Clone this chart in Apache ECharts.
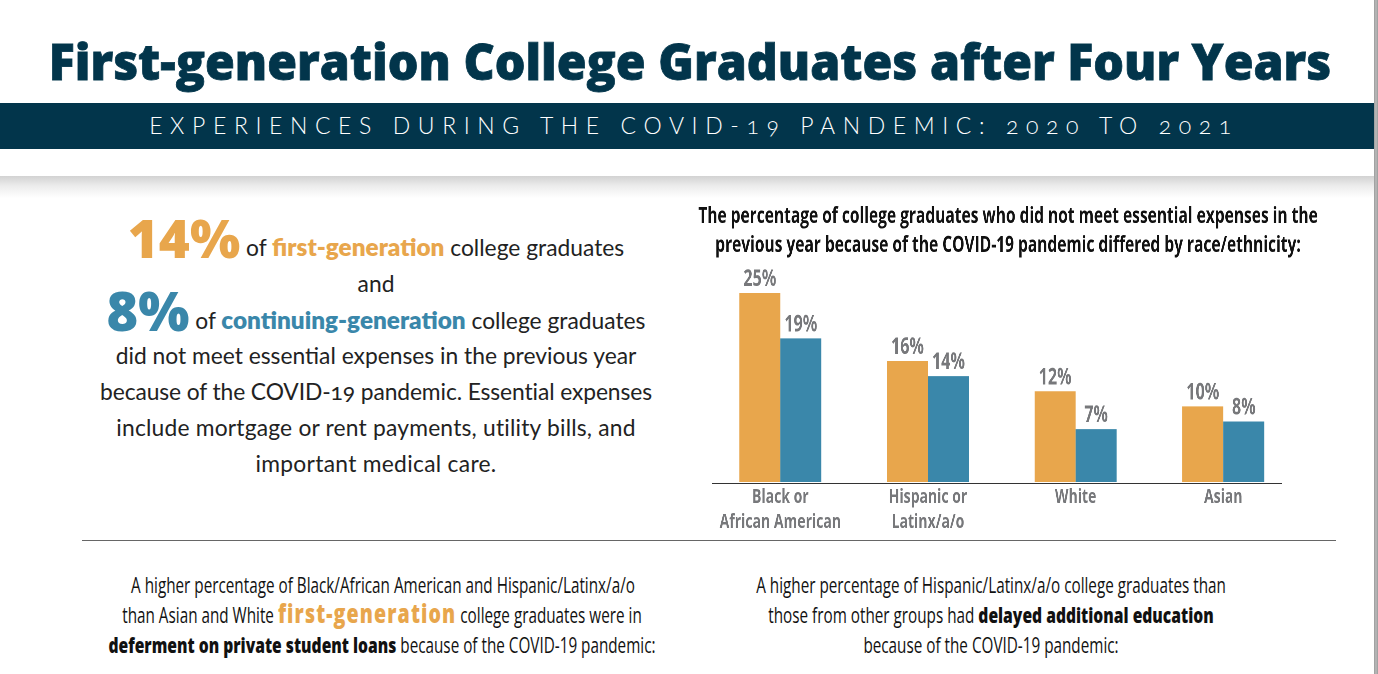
<!doctype html>
<html>

<head>
    <meta charset="utf-8">
    <title>First-generation College Graduates after Four Years</title>
    <style>
        html, body { margin: 0; padding: 0; background: #fff; overflow: hidden; }
        body { width: 1378px; height: 674px; position: relative; color: #222; }

        .shadow {
            position: absolute; left: 0; top: 176px; width: 1378px; height: 22px;
            background: linear-gradient(#d2d2d2, #ececec 45%, #fff);
        }
        .line {
            position: absolute; white-space: nowrap; transform: translateX(-50%); line-height: 1;
        }
        .main-title {
            left: 689.5px; top: 27px; font: 800 50px "Open Sans", sans-serif; color: #02354b;
            -webkit-text-stroke: .8px #02354b;
            transform: translateX(-50%) scaleX(.966);
        }
        .band { position: absolute; left: 0; top: 103px; width: 1374px; height: 46px; background: #02354b; }
        .sub-title {
            left: 694px; top: 111px; font: 300 23px Lato, sans-serif; color: #fff; letter-spacing: 7.6px;
            font-variant-numeric: oldstyle-nums;
        }
        .intro { font: 400 22.8px Lato, sans-serif; left: 376px; font-variant-numeric: oldstyle-nums; }
        .orange { color: #e8a64c; font-weight: 800; font-size: 24.3px; }
        .teal { color: #3a87aa; font-weight: 800; font-size: 24.3px; }
        .big { font: 800 54px "Open Sans", sans-serif; line-height: 0; position: relative; top: 2px; }
        .note {
            font: 400 21px "Open Sans", sans-serif; color: #111;
            transform: translateX(-50%) scaleX(.727);
        }
        .note b { font-weight: 800; font-size: 21.5px; line-height: 0; }
        .note .orange { font-size: 27px; letter-spacing: 1.5px; line-height: 0; }
        .rule { position: absolute; left: 82px; top: 540px; width: 1254px; height: 1px; background: #666; }
        .edge {
            position: absolute; left: 1374px; top: 0; width: 4px; height: 674px;
            background: linear-gradient(90deg, #9a9a9a, #bbb 50%, #9a9a9a);
        }
        #chart { position: absolute; left: 680px; top: 195px; height: 340px; transform-origin: left top; }
    </style>
</head>

<body>
    <div class="shadow"></div>
    <div class="band"></div>
    <div class="edge"></div>
    <div class="line main-title">First-generation College Graduates after Four Years</div>
    <div class="line sub-title">EXPERIENCES DURING THE COVID-19 PANDEMIC: 2020 TO 2021</div>

    <div class="line intro" style="top:232px"><span class="orange big" style="font-size:53px">14%</span> of <span class="orange">first-generation</span> college graduates</div>
    <div class="line intro" style="top:269px">and</div>
    <div class="line intro" style="top:305px"><span class="teal big">8%</span> of <span class="teal">continuing-generation</span> college graduates</div>
    <div class="line intro" style="top:341px">did not meet essential expenses in the previous year</div>
    <div class="line intro" style="top:377px;letter-spacing:-.1px">because of the COVID-19 pandemic. Essential expenses</div>
    <div class="line intro" style="top:413px;letter-spacing:.2px">include mortgage or rent payments, utility bills, and</div>
    <div class="line intro" style="top:449px;letter-spacing:.3px">important medical care.</div>

    <div class="rule"></div>

    <div class="line note" style="left:383px;top:571px">A higher percentage of Black/African American and Hispanic/Latinx/a/o</div>
    <div class="line note" style="left:382px;top:601px">than Asian and White <span class="orange">first-generation</span> college graduates were in</div>
    <div class="line note" style="left:382px;top:631px"><b>deferment on private student loans</b> because of the COVID-19 pandemic:</div>
    <div class="line note" style="left:990.5px;top:571px">A higher percentage of Hispanic/Latinx/a/o college graduates than</div>
    <div class="line note" style="left:990.5px;top:601px">those from other groups had <b>delayed additional education</b></div>
    <div class="line note" style="left:990.5px;top:631px">because of the COVID-19 pandemic:</div>

    <div id="chart"></div>

    <script src="https://cdn.jsdelivr.net/npm/echarts@6/dist/echarts.min.js"></script>
    <script>
        var categories = ['Black or\nAfrican American', 'Hispanic or\nLatinx/a/o', 'White', 'Asian'];
        var firstGen = [25, 16, 12, 10];
        var continuingGen = [19, 14, 7, 8];
        var chartTitle = 'The percentage of college graduates who did not meet essential expenses in the\nprevious year because of the COVID-19 pandemic differed by race/ethnicity:';

        // no condensed font installed, so the whole chart is drawn wide and squeezed with css
        var squeeze = 0.7;
        var sx = function (px) { return px / squeeze; };

        var font = '"Open Sans", sans-serif';
        var grey = '#77787b';

        var chartDom = document.getElementById('chart');
        chartDom.style.width = sx(660) + 'px';
        chartDom.style.transform = 'scaleX(' + squeeze + ')';

        var barLabel = {
            show: true,
            position: 'top',
            distance: 2,
            formatter: '{c}%',
            color: grey,
            fontFamily: font,
            fontWeight: 'bold',
            fontSize: 23
        };

        var myChart = echarts.init(chartDom, null, { devicePixelRatio: 2 });
        myChart.setOption({
            animation: false,
            title: {
                text: chartTitle,
                left: sx(324.5),
                top: 2,
                textAlign: 'center',
                textStyle: {
                    color: '#111',
                    fontFamily: font,
                    fontWeight: 'bold',
                    fontSize: 22.2,
                    lineHeight: 29
                }
            },
            grid: { left: sx(26.5), top: 98, width: sx(590.6), height: 190.5 },
            xAxis: {
                type: 'category',
                data: categories,
                axisTick: { show: false },
                axisLine: { show: false },
                axisLabel: {
                    interval: 0,
                    color: grey,
                    fontFamily: font,
                    fontWeight: 'bold',
                    fontSize: 20,
                    lineHeight: 25,
                    margin: 3
                }
            },
            yAxis: { type: 'value', min: 0, max: 25, show: false },
            series: [
                { name: 'First-generation', type: 'bar', data: firstGen, barWidth: sx(41), barGap: 0, itemStyle: { color: '#e8a64c' }, label: barLabel },
                { name: 'Continuing-generation', type: 'bar', data: continuingGen, barWidth: sx(41), itemStyle: { color: '#3a87aa' }, label: barLabel }
            ],
            graphic: [
                // baseline is shorter than the grid on both sides
                { type: 'line', shape: { x1: sx(32), y1: 288.5, x2: sx(602), y2: 288.5 }, style: { stroke: '#333', lineWidth: 1 } }
            ]
        });
    </script>
</body>

</html>
